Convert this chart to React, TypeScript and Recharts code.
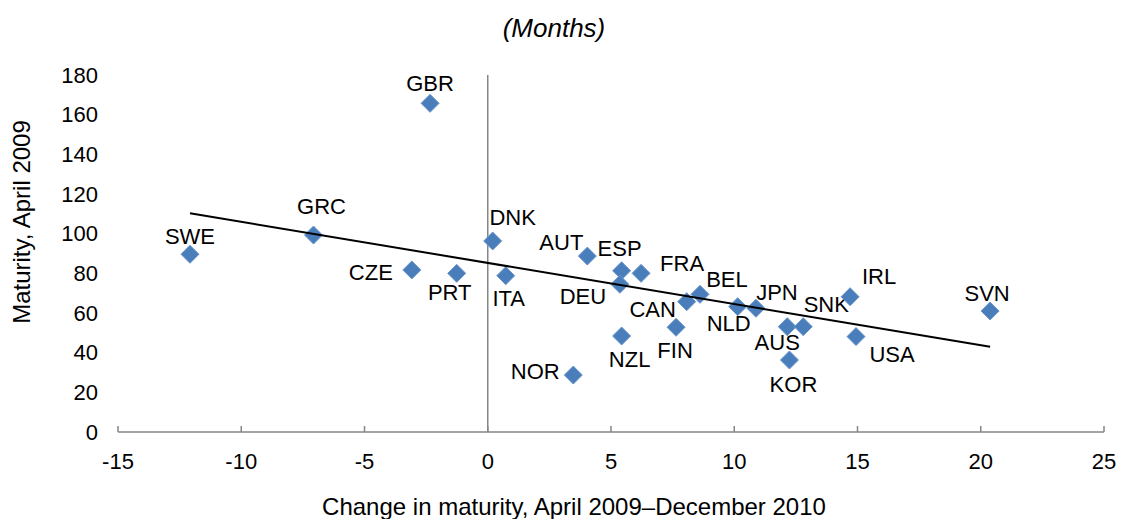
import React from 'react';
import { ScatterChart, Scatter, XAxis, YAxis, ReferenceLine } from 'recharts';

const countries = ['GBR', 'GRC', 'SWE', 'CZE', 'PRT', 'DNK', 'ITA', 'AUT', 'ESP', 'FRA', 'DEU', 'BEL', 'CAN', 'FIN', 'NZL', 'NOR', 'NLD', 'JPN', 'AUS', 'KOR', 'SNK', 'IRL', 'USA', 'SVN'];
const changeInMaturity = [-2.34, -7.07, -12.08, -3.08, -1.26, 0.2, 0.73, 4.04, 5.43, 6.22, 5.36, 8.61, 8.07, 7.64, 5.43, 3.47, 10.14, 10.88, 12.15, 12.24, 12.8, 14.7, 14.94, 20.38];
const maturityApril2009 = [165.7, 99.3, 89.6, 81.7, 80.0, 96.3, 78.8, 88.7, 81.3, 80.0, 74.5, 69.4, 65.7, 52.8, 48.4, 28.7, 63.2, 62.4, 53.1, 36.3, 53.1, 68.2, 48.1, 61.0];
const trendX = [-12.08, 20.38];
const trendY = [110.3, 43.0];
const xTicks = [-15, -10, -5, 0, 5, 10, 15, 20, 25];
const yTicks = [0, 20, 40, 60, 80, 100, 120, 140, 160, 180];

const labelOffsets: Record<string, [number, number]> = {
  GBR: [0, -20], GRC: [8, -29], SWE: [0, -18], CZE: [-41, 3], PRT: [-7, 19],
  DNK: [20, -24], ITA: [3, 23], AUT: [-26, -14], ESP: [-2, -22], FRA: [41, -10],
  DEU: [-37, 12], BEL: [27, -15], CAN: [-34, 8], FIN: [-1, 23], NZL: [8, 23],
  NOR: [-38, -4], NLD: [-9, 17], JPN: [21, -16], AUS: [-10, 16], KOR: [4, 24],
  SNK: [23, -22], IRL: [29, -20], USA: [36, 18], SVN: [-3, -18],
};

const points = countries.map((name, i) => ({ name, x: changeInMaturity[i], y: maturityApril2009[i] }));
const trend = trendX.map((x, i) => ({ x, y: trendY[i] }));

const FONT = '"Liberation Sans", Arial, sans-serif';
const AXIS_GRAY = '#868686';
const MARKER = '#4A7EBB';

const DiamondWithLabel = (props: any) => {
  const { cx, cy, payload } = props;
  const r = 9;
  const off = labelOffsets[payload.name] || [0, -20];
  return (
    <g>
      <polygon
        points={`${cx},${cy - r} ${cx + r},${cy} ${cx},${cy + r} ${cx - r},${cy}`}
        fill={MARKER}
        stroke="#6A96CC"
        strokeWidth={1}
        strokeLinejoin="round"
      />
      <text
        x={cx + off[0]}
        y={cy + off[1]}
        textAnchor="middle"
        dominantBaseline="central"
        fontFamily={FONT}
        fontSize={22}
        fill="#000"
      >
        {payload.name}
      </text>
    </g>
  );
};

const XTick = (props: any) => {
  const { x, y, payload } = props;
  return (
    <g>
      <line x1={x} y1={y} x2={x} y2={y - 6} stroke={AXIS_GRAY} strokeWidth={1.5} />
      <text x={x} y={y + 29} textAnchor="middle" dominantBaseline="central" fontFamily={FONT} fontSize={22} fill="#000">
        {payload.value}
      </text>
    </g>
  );
};

const YTick = (props: any) => {
  const { x, y, payload } = props;
  return (
    <text x={x} y={y} textAnchor="end" dominantBaseline="central" fontFamily={FONT} fontSize={22} fill="#000">
      {payload.value}
    </text>
  );
};

export default function App() {
  return (
    <div style={{ position: 'absolute', left: 0, top: 0, width: 1122, height: 519, background: '#fff', fontFamily: FONT }}>
      <div style={{ position: 'absolute', left: 0, width: 1108, top: 13, textAlign: 'center', fontSize: 26, fontStyle: 'italic', lineHeight: '30px' }}>
        (Months)
      </div>
      <div style={{ position: 'absolute', left: 0, width: 1148, top: 493, textAlign: 'center', fontSize: 24, lineHeight: '28px' }}>
        Change in maturity, April 2009–December 2010
      </div>
      <div style={{ position: 'absolute', left: 22, top: 222, width: 0, height: 0 }}>
        <div style={{ position: 'absolute', left: -150, top: -14, width: 300, textAlign: 'center', fontSize: 24, lineHeight: '28px', transform: 'rotate(-90deg)' }}>
          Maturity, April 2009
        </div>
      </div>
      <ScatterChart width={1122} height={519} margin={{ top: 75, right: 18, bottom: 27, left: 0 }} style={{ position: 'absolute', left: 0, top: 0 }}>
        <XAxis
          type="number"
          dataKey="x"
          domain={[-15, 25]}
          ticks={xTicks}
          interval={0}
          height={60}
          axisLine={{ stroke: AXIS_GRAY, strokeWidth: 1.5 }}
          tickLine={false}
          tickSize={0}
          tickMargin={0}
          tick={<XTick />}
        />
        <YAxis
          type="number"
          dataKey="y"
          domain={[0, 180]}
          ticks={yTicks}
          interval={0}
          width={118}
          axisLine={false}
          tickLine={false}
          tickSize={0}
          tickMargin={20}
          tick={<YTick />}
        />
        <ReferenceLine x={0} stroke={AXIS_GRAY} strokeWidth={1.5} />
        <Scatter data={points} shape={<DiamondWithLabel />} isAnimationActive={false} />
        <Scatter data={trend} line={{ stroke: '#000', strokeWidth: 2 }} shape={() => <g />} isAnimationActive={false} />
      </ScatterChart>
    </div>
  );
}
